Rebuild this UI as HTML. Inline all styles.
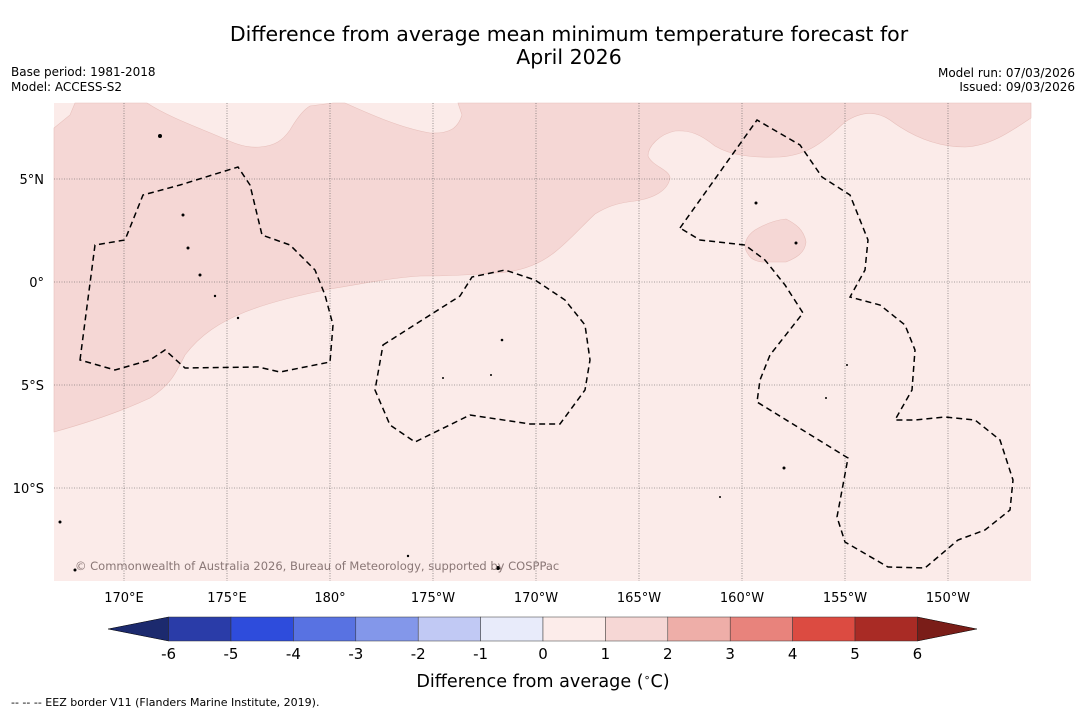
<!DOCTYPE html>
<html><head><meta charset="utf-8"><style>
body{margin:0;background:#fff;width:1085px;height:713px;overflow:hidden;font-family:"DejaVu Sans","Liberation Sans",sans-serif}
svg{display:block}
</style></head><body>
<svg id="c" width="1085" height="713" font-family="DejaVu Sans, Liberation Sans, sans-serif">
<text x="569" y="41" text-anchor="middle" font-size="20.5">Difference from average mean minimum temperature forecast for</text>
<text x="569" y="64" text-anchor="middle" font-size="20.5">April 2026</text>
<text x="11" y="76" font-size="12">Base period: 1981-2018</text>
<text x="11" y="91" font-size="12">Model: ACCESS-S2</text>
<text x="1075" y="77" text-anchor="end" font-size="12">Model run: 07/03/2026</text>
<text x="1075" y="91" text-anchor="end" font-size="12">Issued: 09/03/2026</text>
<g id="map">
<rect x="54" y="103" width="977" height="478" fill="#fbebe9"/>
<path fill="#f5d7d5" stroke="#e8c0bc" stroke-width="0.6" d="M54,432 L54,128 L70,115 L75,103 L147,103 C170,118 200,128 227,140 C240,146 250,148 260,147 C275,146 283,140 290,130 C297,118 303,110 310,106 L333,103 L345,103 C365,112 400,128 430,133 C450,134 458,128 462,115 L458,103 L1031,103 L1031,118 C1010,132 990,146 965,147 C935,147 910,135 890,120 C875,110 860,112 845,122 C825,140 810,155 780,157 C750,158 730,155 715,146 C700,134 690,130 675,131 C660,134 648,146 648,156 C652,166 670,170 670,178 C668,190 655,198 635,201 C615,203 605,208 595,214 C580,228 570,240 555,252 C540,264 520,272 495,273 C470,275 440,276 420,276 C390,278 360,284 330,289 C300,295 270,302 245,312 C220,322 200,335 185,355 C175,375 170,385 150,398 C120,412 90,422 54,432 Z"/>
<path fill="#f5d7d5" stroke="#e8c0bc" stroke-width="0.6" d="M748,254 C742,246 746,236 755,230 C765,224 775,220 786,219 C796,224 804,230 806,242 C805,253 796,258 786,262 L762,262 C754,261 750,258 748,254 Z"/>
<g id="grid" stroke="#555" stroke-width="0.6" stroke-dasharray="1,1.5"></g>
<g id="eez" fill="none" stroke="#000" stroke-width="1.5" stroke-dasharray="6,4">
<path d="M80,360 L95,245 L125,240 L143,195 L180,185 L238,167 L250,185 L262,235 L290,245 L315,270 L325,295 L333,325 L330,362 L280,372 L258,367 L185,368 L165,350 L150,360 L115,370 Z"/>
<path d="M383,345 L460,296 L472,277 L505,270 L535,280 L565,300 L585,325 L590,360 L585,390 L560,424 L530,424 L470,415 L415,442 L390,425 L375,390 Z"/>
<path d="M680,228 L757,120 L800,145 L822,177 L850,195 L868,240 L865,270 L850,297 L880,305 L905,325 L915,350 L912,390 L895,420 L915,420 L945,417 L975,420 L1000,440 L1013,480 L1010,510 L985,530 L958,540 L925,568 L888,567 L845,542 L837,517 L848,458 L757,402 L760,380 L770,355 L803,313 L785,285 L765,260 L745,245 L700,240 L680,228"/>
</g>
<g fill="#000">
<circle cx="160" cy="136" r="2"/><circle cx="183" cy="215" r="1.5"/><circle cx="188" cy="248" r="1.5"/><circle cx="200" cy="275" r="1.5"/><circle cx="215" cy="296" r="1.2"/><circle cx="238" cy="318" r="1.2"/><circle cx="502" cy="340" r="1.3"/><circle cx="756" cy="203" r="1.5"/><circle cx="796" cy="243" r="1.5"/><circle cx="784" cy="468" r="1.5"/><circle cx="498" cy="568" r="2"/><circle cx="60" cy="522" r="1.5"/><circle cx="75" cy="570" r="1.5"/><circle cx="720" cy="497" r="1"/><circle cx="826" cy="398" r="1"/><circle cx="847" cy="365" r="1"/><circle cx="443" cy="378" r="1"/><circle cx="491" cy="375" r="1"/><circle cx="408" cy="556" r="1.2"/>
</g>
<text x="75" y="570" font-size="11.5" fill="#8a7776">© Commonwealth of Australia 2026, Bureau of Meteorology, supported by COSPPac</text>
</g>
<g id="lonlabels" font-size="13" text-anchor="middle"></g>
<g id="latlabels" font-size="13" text-anchor="end"></g>
<g id="cbar"></g>
<text x="543" y="687" text-anchor="middle" font-size="17.6">Difference from average (<tspan font-size="11" dy="-6">∘</tspan><tspan dy="6">C)</tspan></text>
<text x="11" y="706" font-size="11">-- -- -- EEZ border V11 (Flanders Marine Institute, 2019).</text>
</svg>
<script>
const lonTicks=[170,175,180,185,190,195,200,205,210];
const lonLabels=["170°E","175°E","180°","175°W","170°W","165°W","160°W","155°W","150°W"];
const latTicks=[5,0,-5,-10];
const latLabels=["5°N","0°","5°S","10°S"];
const levels=[-6,-5,-4,-3,-2,-1,0,1,2,3,4,5,6];
const colors=["#2a3ca8","#2e4cdc","#5872e2","#8397ea","#c1c9f4","#e8ebfa","#fcecea","#f6d7d5","#eeaea8","#e8837c","#dc4b41","#a92b25"];
const lowColor="#1c2a6e",highColor="#7a1d18";
const ns="http://www.w3.org/2000/svg";
const X=lon=>124+(lon-170)*20.6;
const Y=lat=>282-lat*20.6;
function mk(t,a,p){const e=document.createElementNS(ns,t);for(const k in a)e.setAttribute(k,a[k]);p.appendChild(e);return e;}
const grid=document.getElementById('grid'),lonG=document.getElementById('lonlabels'),latG=document.getElementById('latlabels');
lonTicks.forEach((l,i)=>{const g=mk('line',{x1:X(l),x2:X(l),y1:103,y2:581},grid);


const t=mk('text',{x:X(l),y:602},lonG);t.textContent=lonLabels[i];

});
latTicks.forEach((l,i)=>{const g=mk('line',{x1:54,x2:1031,y1:Y(l),y2:Y(l)},grid);


const t=mk('text',{x:44,y:Y(l)+5},latG);t.textContent=latLabels[i];

});
const cb=document.getElementById('cbar');
const cx=v=>543+v*62.4, y0=617,y1=641;
const la=mk('polygon',{points:`${cx(-6)},${y0} ${cx(-6)},${y1} 108,629`,fill:lowColor,stroke:'#000','stroke-width':0.5},cb);


const ha=mk('polygon',{points:`${cx(6)},${y0} ${cx(6)},${y1} 977,629`,fill:highColor,stroke:'#000','stroke-width':0.5},cb);


colors.forEach((c,i)=>{const r=mk('rect',{x:cx(levels[i]),y:y0,width:cx(levels[i+1])-cx(levels[i]),height:y1-y0,fill:c,stroke:'#333','stroke-width':0.5},cb);

});
levels.forEach(v=>{const t=mk('text',{x:cx(v),y:659,'text-anchor':'middle','font-size':15},cb);t.textContent=v;

});
</script>
</body></html>
